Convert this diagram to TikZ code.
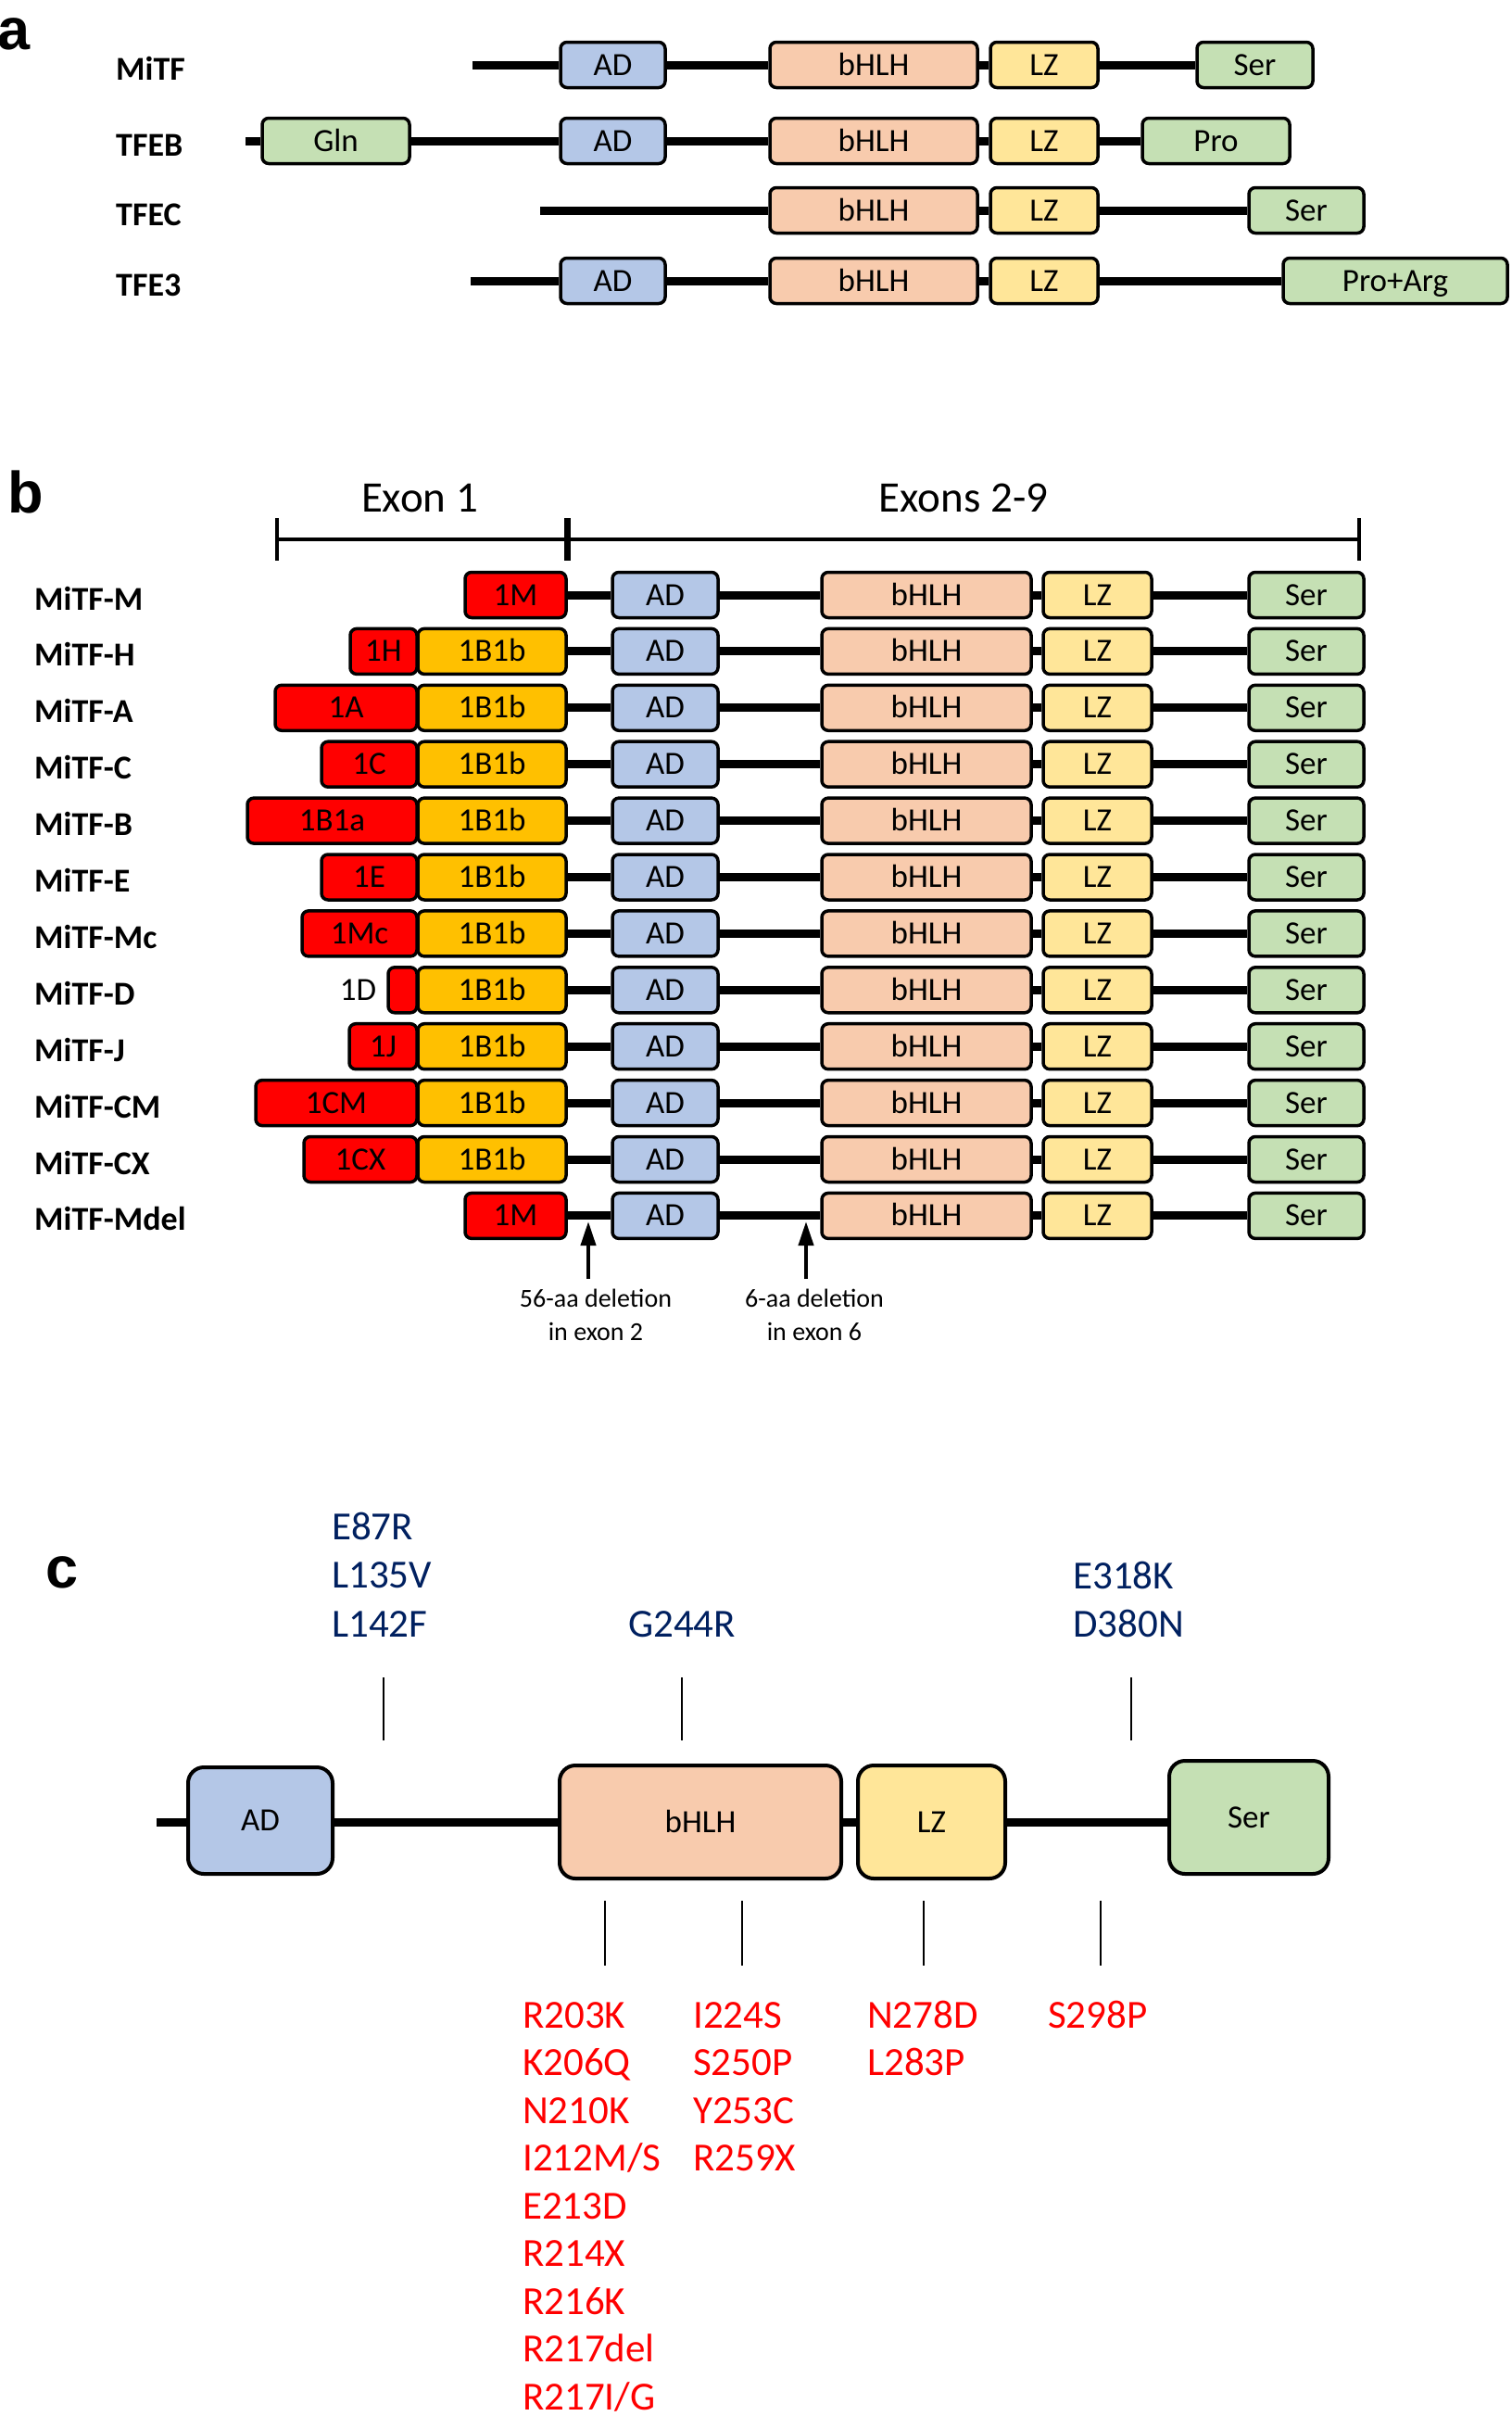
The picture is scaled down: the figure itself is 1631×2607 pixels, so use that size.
\documentclass[tikz,border=0pt]{standalone}
\usepackage{fontspec}
\setmainfont{Carlito}
\newfontfamily\panelfont{Liberation Sans}
\usetikzlibrary{arrows.meta,positioning}
\definecolor{adblue}{HTML}{B4C7E7}
\definecolor{hlhpeach}{HTML}{F8CBAD}
\definecolor{lzyellow}{HTML}{FFE699}
\definecolor{sergreen}{HTML}{C5E0B4}
\definecolor{exred}{HTML}{FF0000}
\definecolor{exgold}{HTML}{FFC000}
\definecolor{navyx}{HTML}{002060}
\tikzset{
  dom/.style={draw=black,line width=3.5pt,rounded corners=7pt,minimum height=49pt,inner sep=0pt,
    text height=22pt,text depth=0pt,font=\fontsize{35}{40}\selectfont},
  cdom/.style={dom,line width=4pt,rounded corners=17pt},
  bb/.style={line width=9pt},
  ar/.style={-{Triangle[length=26pt,width=16pt]},line width=4pt},
  plab/.style={anchor=base west,inner sep=0pt,font=\panelfont\bfseries\fontsize{63}{70}\selectfont},
  rlab/.style={anchor=base west,inner sep=0pt,font=\bfseries\fontsize{36}{40}\selectfont},
  mut/.style={anchor=base west,inner sep=0pt,font=\fontsize{43}{50}\selectfont},
  note/.style={anchor=base,inner sep=0pt,font=\fontsize{28}{34}\selectfont},
  tick/.style={line width=2pt}
}
\begin{document}
\begin{tikzpicture}[x=1pt,y=-1pt]
\useasboundingbox (0,0) rectangle (1631,2607);
% a
\node[plab] (pa) at (-3,53) {a};
\node[rlab] (l1) at (125,86) {MiTF};
\node[rlab] (l2) at (125,168) {TFEB};
\node[rlab] (l3) at (125,243) {TFEC};
\node[rlab] (l4) at (125,319) {TFE3};
\coordinate (s1) at (510,70);
\node[dom,fill=adblue,minimum width=113pt] (ad1) at (661.5,70) {AD};
\node[dom,fill=hlhpeach,minimum width=224pt] (bh1) at (943,70) {bHLH};
\node[dom,fill=lzyellow,minimum width=116pt] (lz1) at (1127,70) {LZ};
\node[dom,fill=sergreen,minimum width=125pt] (se1) at (1354.5,70) {Ser};
\draw[bb] (s1) -- (ad1) (ad1) -- (bh1) (bh1) -- (lz1) (lz1) -- (se1);
\coordinate (s2) at (265,152);
\node[dom,fill=sergreen,minimum width=159pt] (gl2) at (362.5,152) {Gln};
\node[dom,fill=adblue,minimum width=113pt] (ad2) at (661.5,152) {AD};
\node[dom,fill=hlhpeach,minimum width=224pt] (bh2) at (943,152) {bHLH};
\node[dom,fill=lzyellow,minimum width=116pt] (lz2) at (1127,152) {LZ};
\node[dom,fill=sergreen,minimum width=159pt] (pr2) at (1312.5,152) {Pro};
\draw[bb] (s2) -- (gl2) (gl2) -- (ad2) (ad2) -- (bh2) (bh2) -- (lz2) (lz2) -- (pr2);
\coordinate (s3) at (583,227);
\node[dom,fill=hlhpeach,minimum width=224pt] (bh3) at (943,227) {bHLH};
\node[dom,fill=lzyellow,minimum width=116pt] (lz3) at (1127,227) {LZ};
\node[dom,fill=sergreen,minimum width=124pt] (se3) at (1410,227) {Ser};
\draw[bb] (s3) -- (bh3) (bh3) -- (lz3) (lz3) -- (se3);
\coordinate (s4) at (508,303);
\node[dom,fill=adblue,minimum width=113pt] (ad4) at (661.5,303) {AD};
\node[dom,fill=hlhpeach,minimum width=224pt] (bh4) at (943,303) {bHLH};
\node[dom,fill=lzyellow,minimum width=116pt] (lz4) at (1127,303) {LZ};
\node[dom,fill=sergreen,minimum width=242pt] (pa4) at (1506,303) {Pro+Arg};
\draw[bb] (s4) -- (ad4) (ad4) -- (bh4) (bh4) -- (lz4) (lz4) -- (pa4);
% b
\node[plab] (pb) at (8,553) {b};
\coordinate (e0) at (299,582); \coordinate (e1) at (612,582); \coordinate (e2) at (1467,582);
\draw[line width=4pt] (e0) -- (e2);
\draw[line width=4pt] ([yshift=23pt]e0) -- ([yshift=-23pt]e0);
\draw[line width=7pt] ([yshift=23pt]e1) -- ([yshift=-23pt]e1);
\draw[line width=4pt] ([yshift=23pt]e2) -- ([yshift=-23pt]e2);
\node[anchor=base,inner sep=0pt,font=\fontsize{47}{50}\selectfont] (x1) at (453,552) {Exon 1};
\node[anchor=base,inner sep=0pt,font=\fontsize{47}{50}\selectfont] (x2) at (1040,552) {Exons 2-9};
\foreach \lab/\ex/\xl/\xr [count=\i from 0,evaluate=\i as \y using 642+60.9*\i] in
  {M/1M/502/611,H/1H/378/450,A/1A/297/450,C/1C/347/450,B/1B1a/267/450,E/1E/347/450,
   Mc/1Mc/326/450,D//419/450,J/1J/377/450,CM/1CM/276/450,CX/1CX/328/450,Mdel/1M/502/611}{
  \node[rlab] (lb\i) at (37,\y+16) {MiTF-\lab};
  \node[dom,fill=exred,minimum width={(\xr-\xl)*1pt}] (ex\i) at ({(\xl+\xr)/2},\y) {\ex};
  \def\st{ex\i}
  \ifnum\xr<600
    \node[dom,fill=exgold,minimum width=160pt] (gb\i) at (531,\y) {1B1b};
    \def\st{gb\i}
  \fi
  \node[dom,fill=adblue,minimum width=114pt] (ad\i) at (718,\y) {AD};
  \node[dom,fill=hlhpeach,minimum width=226pt] (bh\i) at (1000,\y) {bHLH};
  \node[dom,fill=lzyellow,minimum width=117pt] (lz\i) at (1184.5,\y) {LZ};
  \node[dom,fill=sergreen,minimum width=124pt] (se\i) at (1410,\y) {Ser};
  \draw[bb] (\st) -- (ad\i) (ad\i) -- (bh\i) (bh\i) -- (lz\i) (lz\i) -- (se\i);
}
\node[inner sep=0pt,text height=22pt,text depth=0pt,font=\fontsize{35}{40}\selectfont,left=11pt of ex7] (dlab) {1D};
\coordinate (d1) at (635,1380); \coordinate (d1t) at (635,1318);
\coordinate (d2) at (870,1380); \coordinate (d2t) at (870,1318);
\draw[ar] (d1) -- (d1t);
\draw[ar] (d2) -- (d2t);
\node[note] (n1) at (643,1410) {56-aa deletion};
\node[note] (n2) at (643,1446) {in exon 2};
\node[note] (n3) at (879,1410) {6-aa deletion};
\node[note] (n4) at (879,1446) {in exon 6};
% c
\node[plab] (pc) at (49,1713) {c};
\coordinate (c0) at (169,1966);
\node[cdom,fill=adblue,minimum width=156pt,minimum height=115pt] (cad) at (281,1964.5) {AD};
\node[cdom,fill=hlhpeach,minimum width=304pt,minimum height=122pt] (cbh) at (756,1966) {bHLH};
\node[cdom,fill=lzyellow,minimum width=159pt,minimum height=122pt] (clz) at (1005.5,1966) {LZ};
\node[cdom,fill=sergreen,minimum width=172pt,minimum height=122pt] (cse) at (1348,1961) {Ser};
\draw[bb] (c0) -- (cad.west |- c0) (cad.east |- c0) -- (cbh.west) (cbh.east) -- (clz.west) (clz.east) -- (clz.east -| cse.west);
\foreach \x in {414,736,1221} \draw[tick] (\x,1810) -- (\x,1878);
\foreach \x in {653,801,997,1188} \draw[tick] (\x,2051) -- (\x,2121);
\foreach \m [count=\i from 0] in {E87R,L135V,L142F} \node[mut,text=navyx] (ea\i) at (358,1661+52.5*\i) {\m};
\node[mut,text=navyx] (eg) at (678,1766) {G244R};
\foreach \m [count=\i from 0] in {E318K,D380N} \node[mut,text=navyx] (el\i) at (1158,1714+52.5*\i) {\m};
\foreach \m [count=\i from 0] in {R203K,K206Q,N210K,{I212M/S},E213D,R214X,R216K,R217del,{R217I/G}}
  \node[mut,text=exred] (ra\i) at (564,2188+51.5*\i) {\m};
\foreach \m [count=\i from 0] in {I224S,S250P,Y253C,R259X}
  \node[mut,text=exred] (rb\i) at (748,2188+51.5*\i) {\m};
\foreach \m [count=\i from 0] in {N278D,L283P}
  \node[mut,text=exred] (rc\i) at (936,2188+51.5*\i) {\m};
\node[mut,text=exred] (rd) at (1131,2188) {S298P};
\end{tikzpicture}
\end{document}
